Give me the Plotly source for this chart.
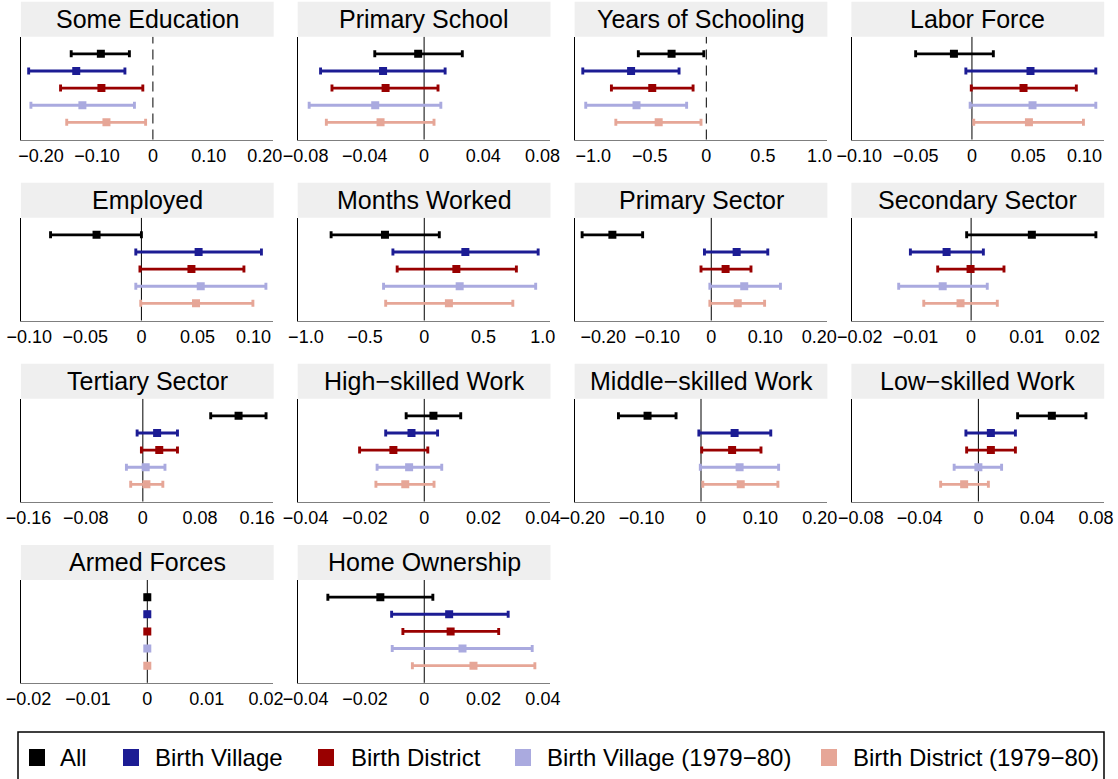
import plotly.graph_objects as go

# ---------------- data ----------------
titles = ["Some Education", "Primary School", "Years of Schooling", "Labor Force",
          "Employed", "Months Worked", "Primary Sector", "Secondary Sector",
          "Tertiary Sector", "High\u2212skilled Work", "Middle\u2212skilled Work", "Low\u2212skilled Work",
          "Armed Forces", "Home Ownership"]

series_names = ["All", "Birth Village", "Birth District",
                "Birth Village (1979\u221280)", "Birth District (1979\u221280)"]

est_all = [-0.093, -0.004, -0.307, -0.016, -0.040, -0.332, -0.183, 0.0109, 0.134, 0.0031, -0.090, 0.050, 0.0, -0.0148]
lo_all = [-0.146, -0.0333, -0.601, -0.050, -0.081, -0.787, -0.239, -0.0008, 0.095, -0.0061, -0.139, 0.0267, -0.0002, -0.0325]
hi_all = [-0.042, 0.0258, -0.022, 0.019, 0.0, 0.127, -0.127, 0.0224, 0.1725, 0.0123, -0.042, 0.0732, 0.0002, 0.0029]

est_bv = [-0.137, -0.0277, -0.665, 0.052, 0.051, 0.347, 0.047, -0.0044, 0.020, -0.0043, 0.0566, 0.0085, 0.0, 0.0084]
lo_bv = [-0.222, -0.0699, -1.092, -0.0054, -0.005, -0.265, -0.0126, -0.0109, -0.008, -0.0130, -0.0036, -0.0085, -0.0002, -0.011]
hi_bv = [-0.050, 0.0142, -0.241, 0.110, 0.107, 0.962, 0.1046, 0.0022, 0.0485, 0.0045, 0.1175, 0.0252, 0.0002, 0.0283]

est_bd = [-0.092, -0.026, -0.478, 0.0458, 0.0446, 0.271, 0.0265, -0.0001, 0.023, -0.0104, 0.0524, 0.0085, 0.0, 0.0089]
lo_bd = [-0.165, -0.0622, -0.839, -0.0006, -0.0013, -0.229, -0.019, -0.006, -0.002, -0.0218, 0.0012, -0.008, -0.0002, -0.0072]
hi_bd = [-0.018, 0.0094, -0.117, 0.0927, 0.0914, 0.778, 0.0735, 0.0059, 0.0485, 0.0012, 0.101, 0.0252, 0.0002, 0.0251]

est_bv79 = [-0.126, -0.033, -0.617, 0.0538, 0.0529, 0.299, 0.061, -0.0051, 0.004, -0.0051, 0.065, 0.0, 0.0, 0.0129]
lo_bv79 = [-0.218, -0.0776, -1.066, -0.0016, -0.005, -0.344, -0.0026, -0.0130, -0.023, -0.0159, -0.0012, -0.0165, -0.0002, -0.0108]
hi_bv79 = [-0.033, 0.0113, -0.174, 0.110, 0.111, 0.941, 0.128, 0.0029, 0.031, 0.0059, 0.1307, 0.0158, 0.0002, 0.0364]

est_bd79 = [-0.083, -0.0294, -0.421, 0.0506, 0.0487, 0.208, 0.049, -0.0019, 0.005, -0.0064, 0.0669, -0.0097, 0.0, 0.0166]
lo_bd79 = [-0.154, -0.066, -0.80, 0.0016, -0.0006, -0.326, -0.0026, -0.0085, -0.017, -0.0163, 0.003, -0.0257, -0.0002, -0.004]
hi_bd79 = [-0.013, 0.0067, -0.047, 0.099, 0.0994, 0.748, 0.0987, 0.0047, 0.028, 0.0033, 0.1295, 0.0068, 0.0002, 0.0373]

tick_vals = [
    [-0.2, -0.1, 0, 0.1, 0.2], [-0.08, -0.04, 0, 0.04, 0.08], [-1, -0.5, 0, 0.5, 1], [-0.1, -0.05, 0, 0.05, 0.1],
    [-0.1, -0.05, 0, 0.05, 0.1], [-1, -0.5, 0, 0.5, 1], [-0.2, -0.1, 0, 0.1, 0.2], [-0.02, -0.01, 0, 0.01, 0.02],
    [-0.16, -0.08, 0, 0.08, 0.16], [-0.04, -0.02, 0, 0.02, 0.04], [-0.2, -0.1, 0, 0.1, 0.2], [-0.08, -0.04, 0, 0.04, 0.08],
    [-0.02, -0.01, 0, 0.01, 0.02], [-0.04, -0.02, 0, 0.02, 0.04]]
tick_text = [
    ["\u22120.20", "\u22120.10", "0", "0.10", "0.20"], ["\u22120.08", "\u22120.04", "0", "0.04", "0.08"],
    ["\u22121.0", "\u22120.5", "0", "0.5", "1.0"], ["\u22120.10", "\u22120.05", "0", "0.05", "0.10"],
    ["\u22120.10", "\u22120.05", "0", "0.05", "0.10"], ["\u22121.0", "\u22120.5", "0", "0.5", "1.0"],
    ["\u22120.20", "\u22120.10", "0", "0.10", "0.20"], ["\u22120.02", "\u22120.01", "0", "0.01", "0.02"],
    ["\u22120.16", "\u22120.08", "0", "0.08", "0.16"], ["\u22120.04", "\u22120.02", "0", "0.02", "0.04"],
    ["\u22120.20", "\u22120.10", "0", "0.10", "0.20"], ["\u22120.08", "\u22120.04", "0", "0.04", "0.08"],
    ["\u22120.02", "\u22120.01", "0", "0.01", "0.02"], ["\u22120.04", "\u22120.02", "0", "0.02", "0.04"]]
x_ranges = [
    [-0.235, 0.215], [-0.085, 0.085], [-1.16, 1.066], [-0.1066, 0.117],
    [-0.107, 0.1175], [-1.065, 1.062], [-0.252, 0.214], [-0.0214, 0.0238],
    [-0.17, 0.1825], [-0.0425, 0.0424], [-0.212, 0.212], [-0.0861, 0.0853],
    [-0.0212, 0.0212], [-0.0425, 0.0424]]
dashed_zero = [True, False, True, False, False, False, False, False, False, False, False, False, False, False]

# ---------------- style ----------------
colors = ["#000000", "#1C1C94", "#990000", "#AAAADF", "#E6A697"]
FONT = "Liberation Sans, Arial, Helvetica, sans-serif"
W, H = 1118, 779
col_left = [21.4, 298.2, 575.1, 851.9]
col_w = 251.8
row_top = [36.7, 217.7, 398.7, 580.0]
row_h = 102.8
strip_h = 35.0

def px(x):
    return x / W

def py(y):
    return 1 - y / H

est = [est_all, est_bv, est_bd, est_bv79, est_bd79]
lo = [lo_all, lo_bv, lo_bd, lo_bv79, lo_bd79]
hi = [hi_all, hi_bv, hi_bd, hi_bv79, hi_bd79]
ypos = [5, 4, 3, 2, 1]

fig = go.Figure()
shapes = []
annotations = []
layout_axes = {}

for p, title in enumerate(titles):
    r, c = divmod(p, 4)
    sfx = "" if p == 0 else str(p + 1)
    for s in range(5):
        e = est[s][p]
        fig.add_trace(go.Scatter(
            x=[e], y=[ypos[s]], mode="markers", name=series_names[s],
            legendgroup=series_names[s], showlegend=False,
            marker=dict(symbol="square", size=8, color=colors[s]),
            error_x=dict(type="data", symmetric=False,
                         array=[hi[s][p] - e], arrayminus=[e - lo[s][p]],
                         color=colors[s], thickness=2.9, width=3.5),
            xaxis="x" + sfx, yaxis="y" + sfx))
    x0 = col_left[c]
    x1 = x0 + col_w
    y0 = row_top[r]
    y1 = y0 + row_h
    layout_axes["xaxis" + sfx] = dict(
        domain=[px(x0), px(x1)], range=x_ranges[p], anchor="y" + sfx,
        tickmode="array", tickvals=tick_vals[p], ticktext=tick_text[p],
        showline=True, linecolor="#7f7f7f", linewidth=1, ticks="",
        showgrid=False, zeroline=False, fixedrange=True, automargin=False,
        tickfont=dict(size=18, color="#000000", family=FONT))
    layout_axes["yaxis" + sfx] = dict(
        domain=[py(y1), py(y0)], range=[0, 6], anchor="x" + sfx,
        showticklabels=False, ticks="", showline=True, linecolor="#000000",
        linewidth=1.3, showgrid=False, zeroline=False, fixedrange=True, automargin=False)
    # zero reference line
    shapes.append(dict(type="line", xref="x" + sfx, yref="y" + sfx + " domain",
                       x0=0, x1=0, y0=0, y1=1, layer="below",
                       line=dict(color="#000000", width=1,
                                 dash="10px,6px" if dashed_zero[p] else "solid")))
    # strip
    shapes.append(dict(type="rect", xref="paper", yref="paper",
                       x0=px(x0 - 0.5), x1=px(x1 + 0.5), y0=py(y0), y1=py(y0 - strip_h),
                       fillcolor="#EFEFEF", line=dict(width=0), layer="below"))
    annotations.append(dict(text=title, xref="paper", yref="paper",
                            x=px((x0 + x1) / 2), y=py(y0 - strip_h / 2 - 0.5),
                            xanchor="center", yanchor="middle", showarrow=False,
                            font=dict(size=25, color="#000000", family=FONT)))

# ---------------- legend (bottom box) ----------------
shapes.append(dict(type="rect", xref="paper", yref="paper",
                   x0=px(18), x1=px(1104), y0=py(800), y1=py(732),
                   line=dict(color="#000000", width=1.5), fillcolor="rgba(0,0,0,0)"))
sq_left = [29, 123, 318, 515, 821]
txt_left = [59, 154, 350, 546, 852]
leg_y = 757.5
for s in range(5):
    shapes.append(dict(type="rect", xref="paper", yref="paper",
                       x0=px(sq_left[s]), x1=px(sq_left[s] + 16),
                       y0=py(leg_y + 8.5), y1=py(leg_y - 8.5),
                       fillcolor=colors[s], line=dict(width=0)))
    annotations.append(dict(text=series_names[s], xref="paper", yref="paper",
                            x=px(txt_left[s]), y=py(leg_y), xanchor="left", yanchor="middle",
                            showarrow=False, borderpad=0,
                            font=dict(size=24, color="#000000", family=FONT)))

fig.update_layout(
    width=W, height=H, autosize=False,
    margin=dict(l=0, r=0, t=0, b=0, autoexpand=False),
    paper_bgcolor="#FFFFFF", plot_bgcolor="#FFFFFF",
    showlegend=False, shapes=shapes, annotations=annotations,
    font=dict(family=FONT, color="#000000"),
    **layout_axes)

fig.write_html("out.html", config={"displayModeBar": False},
               post_script="document.body.style.margin='0px';document.body.style.padding='0px';")
